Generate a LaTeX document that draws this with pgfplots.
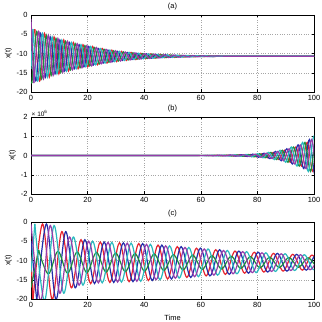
\documentclass[border=0pt]{standalone}
\usepackage{fontspec}
\setmainfont{Liberation Sans}
\usepackage{pgfplots}
\usepackage{pgfplotstable}
\pgfplotsset{compat=1.18}

\definecolor{cred}{RGB}{230,35,45}
\definecolor{cblue}{RGB}{35,45,170}
\definecolor{cgreen}{RGB}{30,140,60}
\definecolor{cmag}{RGB}{150,60,170}
\definecolor{ccyan}{RGB}{40,185,190}

% panel (a): extremes of each oscillator, shared levels P / M
\pgfplotstableread{
tB tG tC tM tR P M
0 0.34 0.68 1.02 1.36 -3.70 -17.70
1.7 2.04 2.38 2.72 3.06 -17.13 -4.27
3.4 3.74 4.08 4.42 4.76 -4.79 -16.61
5.1 5.44 5.78 6.12 6.46 -16.12 -5.28
6.8 7.14 7.48 7.82 8.16 -5.72 -15.68
8.5 8.84 9.18 9.52 9.86 -15.28 -6.12
10.2 10.54 10.88 11.22 11.56 -6.50 -14.90
11.9 12.24 12.58 12.92 13.26 -14.56 -6.84
13.6 13.94 14.28 14.62 14.96 -7.15 -14.25
15.3 15.64 15.98 16.32 16.66 -13.96 -7.44
17.0 17.34 17.68 18.02 18.36 -7.71 -13.69
18.7 19.04 19.38 19.72 20.06 -13.45 -7.95
20.4 20.74 21.08 21.42 21.76 -8.18 -13.22
22.1 22.44 22.78 23.12 23.46 -12.95 -8.45
23.8 24.14 24.48 24.82 25.16 -8.70 -12.70
25.5 25.84 26.18 26.52 26.86 -12.48 -8.92
27.2 27.54 27.88 28.22 28.56 -9.12 -12.28
28.9 29.24 29.58 29.92 30.26 -12.10 -9.30
30.6 30.94 31.28 31.62 31.96 -9.46 -11.94
32.3 32.64 32.98 33.32 33.66 -11.80 -9.60
34.0 34.34 34.68 35.02 35.36 -9.72 -11.68
35.7 36.04 36.38 36.72 37.06 -11.57 -9.83
37.4 37.74 38.08 38.42 38.76 -9.93 -11.47
39.1 39.44 39.78 40.12 40.46 -11.38 -10.02
40.8 41.14 41.48 41.82 42.16 -10.10 -11.30
42.5 42.84 43.18 43.52 43.86 -11.23 -10.17
44.2 44.54 44.88 45.22 45.56 -10.23 -11.17
45.9 46.24 46.58 46.92 47.26 -11.11 -10.29
47.6 47.94 48.28 48.62 48.96 -10.34 -11.06
49.3 49.64 49.98 50.32 50.66 -11.02 -10.38
51.0 51.34 51.68 52.02 52.36 -10.42 -10.98
52.7 53.04 53.38 53.72 54.06 -10.94 -10.46
54.4 54.74 55.08 55.42 55.76 -10.49 -10.91
56.1 56.44 56.78 57.12 57.46 -10.88 -10.52
57.8 58.14 58.48 58.82 59.16 -10.55 -10.85
59.5 59.84 60.18 60.52 60.86 -10.82 -10.58
61.2 61.54 61.88 62.22 62.56 -10.60 -10.80
62.9 63.24 63.58 63.92 64.26 -10.78 -10.62
70 70 70 70 70 -10.7 -10.7
100 100 100 100 100 -10.7 -10.7
}\dataA

% panel (b): values in units of 10^6
\pgfplotstableread{
tC tB tG tM tR P M
0 0 0 0 0 0 0
50 50 50 50 50 0 0
60 60.4 60.8 61.2 61.6 0.006 -0.006
62 62.4 62.8 63.2 63.6 -0.008 0.008
64 64.4 64.8 65.2 65.6 0.011 -0.011
66 66.4 66.8 67.2 67.6 -0.015 0.015
68 68.4 68.8 69.2 69.6 0.020 -0.020
70 70.4 70.8 71.2 71.6 -0.026 0.026
72 72.4 72.8 73.2 73.6 0.034 -0.034
74 74.4 74.8 75.2 75.6 -0.044 0.044
76 76.4 76.8 77.2 77.6 0.057 -0.057
78 78.4 78.8 79.2 79.6 -0.073 0.073
80 80.4 80.8 81.2 81.6 0.093 -0.093
82 82.4 82.8 83.2 83.6 -0.12 0.12
84 84.4 84.8 85.2 85.6 0.16 -0.16
86 86.4 86.8 87.2 87.6 -0.21 0.21
88 88.4 88.8 89.2 89.6 0.27 -0.27
90 90.4 90.8 91.2 91.6 -0.35 0.35
92 92.4 92.8 93.2 93.6 0.44 -0.44
94 94.4 94.8 95.2 95.6 -0.55 0.55
96 96.4 96.8 97.2 97.6 0.68 -0.68
98 98.4 98.8 99.2 99.6 -0.83 0.83
100 100.4 100.8 101.2 101.6 1.0 -1.0
102 102.4 102.8 103.2 103.6 -1.18 1.18
}\dataB

% panel (c)
\pgfplotstableread{
tM tR tC tB tG P M G
0 0.68 1.36 2.04 2.72 -0.5 -20.5 -7.3
3.4 4.08 4.76 5.44 6.12 -20.5 -0.5 -13.5
6.8 7.48 8.16 8.84 9.52 -0.9 -20.1 -7.6
10.2 10.88 11.56 12.24 12.92 -18.5 -2.5 -13.3
13.6 14.28 14.96 15.64 16.32 -3.9 -17.1 -7.8
17 17.68 18.36 19.04 19.72 -16.4 -4.6 -13.15
20.4 21.08 21.76 22.44 23.12 -5.0 -16.0 -7.9
23.8 24.48 25.16 25.84 26.52 -15.8 -5.2 -13.0
27.2 27.88 28.56 29.24 29.92 -5.3 -15.7 -8.05
30.6 31.28 31.96 32.64 33.32 -15.6 -5.4 -12.9
34 34.68 35.36 36.04 36.72 -5.5 -15.5 -8.2
37.4 38.08 38.76 39.44 40.12 -15.4 -5.6 -12.75
40.8 41.48 42.16 42.84 43.52 -5.8 -15.2 -8.3
44.2 44.88 45.56 46.24 46.92 -15.0 -6.0 -12.6
47.6 48.28 48.96 49.64 50.32 -6.2 -14.8 -8.5
51 51.68 52.36 53.04 53.72 -14.6 -6.4 -12.45
54.4 55.08 55.76 56.44 57.12 -6.6 -14.4 -8.6
57.8 58.48 59.16 59.84 60.52 -14.2 -6.8 -12.3
61.2 61.88 62.56 63.24 63.92 -7.0 -14.0 -8.75
64.6 65.28 65.96 66.64 67.32 -13.8 -7.2 -12.2
68 68.68 69.36 70.04 70.72 -7.4 -13.6 -8.9
71.4 72.08 72.76 73.44 74.12 -13.45 -7.55 -12.05
74.8 75.48 76.16 76.84 77.52 -7.7 -13.3 -9.0
78.2 78.88 79.56 80.24 80.92 -13.15 -7.85 -11.95
81.6 82.28 82.96 83.64 84.32 -8.0 -13.0 -9.1
85 85.68 86.36 87.04 87.72 -12.85 -8.15 -11.85
88.4 89.08 89.76 90.44 91.12 -8.25 -12.75 -9.2
91.8 92.48 93.16 93.84 94.52 -12.6 -8.4 -11.75
95.2 95.88 96.56 97.24 97.92 -8.5 -12.5 -9.3
98.6 99.28 99.96 100.64 101.32 -12.4 -8.6 -11.65
102 102.68 103.36 104.04 104.72 -8.7 -12.3 -9.4
}\dataC

\pgfplotsset{
  panel/.style={
    scale only axis, width=283bp, height=77bp,
    anchor=south west, clip mode=individual,
    xmin=0, xmax=100, xtick={0,20,...,100},
    grid=major, grid style={dotted, gray!70, line width=0.4pt},
    axis line style={black, line width=0.45pt},
    tick align=inside, major tick length=2.5bp,
    tick style={black, line width=0.4pt},
    ticklabel style={font=\fontsize{7.5}{8}\selectfont},
    label style={font=\fontsize{7.5}{9}\selectfont},
    title style={font=\fontsize{7.5}{9}\selectfont, at={(0.5,1)}, anchor=center, yshift=2bp},
    /pgf/number format/assume math mode=true,
    ylabel={x(t)}, ylabel shift=-2bp,
    every axis plot/.append style={line width=1.2bp, smooth, tension=0.55, no marks},
  },
}

\begin{document}
\begin{tikzpicture}
\useasboundingbox (0,0) rectangle (322bp,322bp);

% (a)
\begin{axis}[panel, at={(31bp,230bp)}, title={(a)},
  ymin=-20, ymax=0, ytick={-20,-15,...,0}]
  \addplot[cred] table[x=tR,y=P] {\dataA};
  \addplot[cred] coordinates {(0,-8) (1.36,-3.70)};
  \addplot[cblue] table[x=tB,y=P] {\dataA};
  \addplot[cgreen] table[x=tG,y=M] {\dataA};
  \addplot[cgreen] coordinates {(0,-17.5) (0.34,-17.70)};
  \addplot[ccyan] table[x=tC,y=P] {\dataA};
  \addplot[ccyan] coordinates {(0,-14) (0.68,-3.70)};
  \addplot[cmag] table[x=tM,y=M] {\dataA};
  \addplot[cmag] coordinates {(0,-1) (1.02,-17.70)};
\end{axis}

% (b)
\begin{axis}[panel, at={(31bp,128bp)}, title={(b)},
  ymin=-2, ymax=2, ytick={-2,-1,...,2}]
  \addplot[cred] table[x=tR,y=P] {\dataB};
  \addplot[cblue] table[x=tB,y=M] {\dataB};
  \addplot[cgreen] table[x=tG,y=P] {\dataB};
  \addplot[ccyan] table[x=tC,y=P] {\dataB};
  \addplot[cmag] table[x=tM,y=M] {\dataB};
  \node[anchor=south west, inner sep=0.5bp, font=\fontsize{6.5}{7}\selectfont]
    at (rel axis cs:0,1) {× 10\textsuperscript{6}};
\end{axis}

% (c)
\begin{axis}[panel, at={(31bp,23bp)}, title={(c)}, xlabel={Time},
  ymin=-20, ymax=0, ytick={-20,-15,...,0}]
  \addplot[cred] table[x=tR,y=M] {\dataC};
  \addplot[cred] coordinates {(0,-9) (0.68,-20.5)};
  \addplot[cblue] table[x=tB,y=M] {\dataC};
  \addplot[cblue] coordinates {(0,-5) (2.04,-20.5)};
  \addplot[cgreen] table[x=tG,y=G] {\dataC};
  \addplot[cgreen] coordinates {(0,-17) (2.72,-7.3)};
  \addplot[ccyan] table[x=tC,y=P] {\dataC};
  \addplot[ccyan] coordinates {(0,-13) (1.36,-0.5)};
  \addplot[cmag] table[x=tM,y=P] {\dataC};
\end{axis}
\end{tikzpicture}
\end{document}
